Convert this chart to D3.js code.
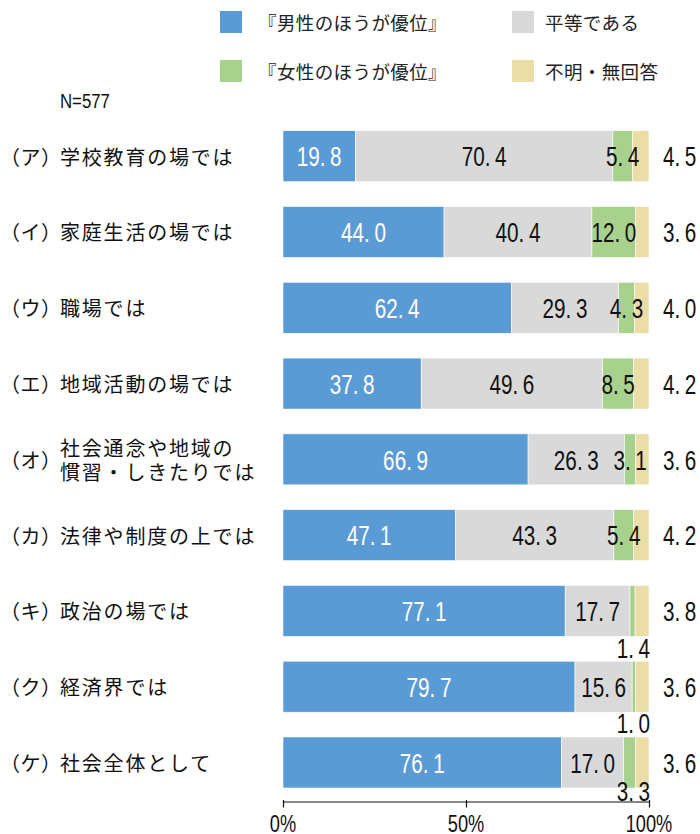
<!DOCTYPE html>
<html>
<head>
<meta charset="utf-8">
<script src="https://cdn.jsdelivr.net/npm/d3@7"></script>
<style>
  html, body { margin: 0; padding: 0; background: #fff; }
  svg { display: block; }
</style>
</head>
<body>
<svg id="chart" width="700" height="834"></svg>
<script>
// Survey: in which areas are men and women treated equally? (N=577)
const prefixes = ["（ア）", "（イ）", "（ウ）", "（エ）", "（オ）", "（カ）", "（キ）", "（ク）", "（ケ）"];
const categories = [
  ["学校教育の場では"],
  ["家庭生活の場では"],
  ["職場では"],
  ["地域活動の場では"],
  ["社会通念や地域の", "慣習・しきたりでは"],
  ["法律や制度の上では"],
  ["政治の場では"],
  ["経済界では"],
  ["社会全体として"]
];
const seriesNames = ["『男性のほうが優位』", "平等である", "『女性のほうが優位』", "不明・無回答"];
const menFavored   = [19.8, 44.0, 62.4, 37.8, 66.9, 47.1, 77.1, 79.7, 76.1];
const equal        = [70.4, 40.4, 29.3, 49.6, 26.3, 43.3, 17.7, 15.6, 17.0];
const womenFavored = [5.4, 12.0, 4.3, 8.5, 3.1, 5.4, 1.4, 1.0, 3.3];
const noAnswer     = [4.5, 3.6, 4.0, 4.2, 3.6, 4.2, 3.8, 3.6, 3.6];
const tickValues = [0, 50, 100];
const sampleLabel = "N=577";

const colors = ["#5B9BD5", "#D9D9D9", "#A9D18E", "#EBDDA6"];
const labelColors = ["#ffffff", "#111111", "#111111", "#111111"];
// Rows whose narrow "women favored" value sits under the bar: row -> drop below the bar bottom
const womenLabelBelow = new Map([[6, 11.5], [7, 11], [8, 3]]);

const svg = d3.select("#chart");
const jpFont = "'Noto Sans CJK JP', 'Noto Sans', sans-serif";
const numFont = "'Liberation Sans', Arial, sans-serif";

const x = d3.scaleLinear().domain([0, 100]).range([283, 649]);
const rows = d3.range(prefixes.length);
const y = d3.scaleBand().domain(rows).range([130.7, 788]).paddingInner(0.327).paddingOuter(0);

const series = [menFavored, equal, womenFavored, noAnswer];

// Narrow numeric text; the decimal part gets a little extra room after the point
function numText(g, px, py, str, anchor, color, size, sx = 0.74) {
  const t = g.append("text")
    .attr("transform", `translate(${px},${py}) scale(${sx},1)`)
    .attr("text-anchor", anchor)
    .attr("dominant-baseline", "central")
    .attr("font-family", numFont)
    .attr("font-size", size)
    .attr("fill", color);
  const dot = str.indexOf(".");
  if (dot < 0) {
    t.text(str);
  } else {
    t.append("tspan").text(str.slice(0, dot + 1));
    t.append("tspan").attr("dx", size * 0.22).text(str.slice(dot + 1));
  }
}

// Legend
const legend = svg.append("g");
const legendPos = [[220, 11], [512, 11], [220, 60], [512, 60]];
seriesNames.forEach((name, i) => {
  const [lx, ly] = legendPos[i];
  legend.append("rect").attr("x", lx).attr("y", ly).attr("width", 22).attr("height", 22).attr("fill", colors[i]);
  legend.append("text")
    .attr("x", lx + (i % 2 === 0 ? 38 : 33)).attr("y", ly + 11)
    .attr("dominant-baseline", "central")
    .attr("font-family", jpFont).attr("font-size", 18.5)
    .attr("letter-spacing", 0.4)
    .attr("fill", "#222")
    .text(name);
});

numText(svg, 60, 101, sampleLabel, "start", "#111", 21, 0.8);

// Axis
const axis = svg.append("g").attr("transform", "translate(0,801.5)")
  .call(d3.axisBottom(x).tickValues(tickValues).tickFormat(d => d + "%").tickSize(6).tickSizeOuter(0));
axis.select(".domain").attr("stroke", "#111").attr("stroke-width", 1.2);
axis.selectAll(".tick line").attr("stroke", "#111").attr("stroke-width", 1.2).attr("y1", -1.5);
axis.selectAll(".tick text").remove();
tickValues.forEach(t => numText(axis, x(t), 23, t + "%", "middle", "#111", 24, 0.76));

// Bars first, then their value labels on top
const barG = svg.append("g");
const labelG = svg.append("g");
rows.forEach(r => {
  const vals = series.map(s => s[r]);
  const total = d3.sum(vals);
  let acc = 0;
  const yTop = y(r), h = y.bandwidth(), yc = yTop + h / 2;
  vals.forEach((v, i) => {
    const x0 = x(acc / total * 100);
    acc += v;
    const x1 = x(acc / total * 100);
    barG.append("rect")
      .attr("x", x0).attr("y", yTop)
      .attr("width", x1 - x0).attr("height", h)
      .attr("fill", colors[i])
      .attr("stroke", "#ffffff").attr("stroke-width", 0.6);
    const str = v.toFixed(1);
    if (i === 3) {
      numText(labelG, 663, yc, str, "start", "#111", 28);
    } else if (i === 2 && womenLabelBelow.has(r)) {
      numText(labelG, 650, yTop + h + womenLabelBelow.get(r), str, "end", "#111", 28);
    } else {
      numText(labelG, (x0 + x1) / 2, yc, str, "middle", labelColors[i], 28);
    }
  });
});

// Category labels
const catG = svg.append("g").attr("font-family", jpFont).attr("font-size", 20).attr("fill", "#111");
rows.forEach(r => {
  const yc = y(r) + y.bandwidth() / 2;
  catG.append("text").attr("x", 0).attr("y", yc).attr("dominant-baseline", "central")
    .attr("letter-spacing", 0.5).text(prefixes[r]);
  const lines = categories[r];
  const t = catG.append("text").attr("letter-spacing", 1.8);
  lines.forEach((line, k) => {
    const off = (k - (lines.length - 1) / 2) * 23.5;
    t.append("tspan").attr("x", 60).attr("y", yc + off).attr("dominant-baseline", "central").text(line);
  });
});
</script>
</body>
</html>
